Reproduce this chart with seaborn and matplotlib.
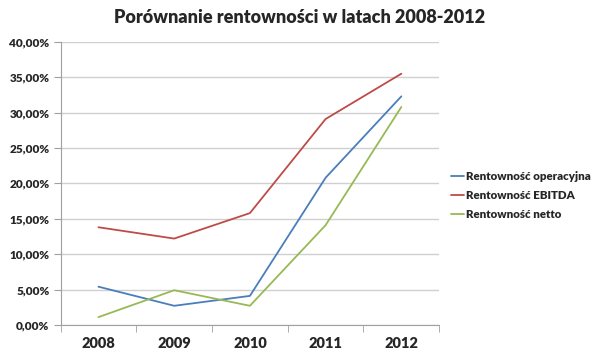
import matplotlib
matplotlib.use("Agg")
import matplotlib.pyplot as plt
import seaborn as sns
import pandas as pd
from matplotlib.ticker import FuncFormatter, FixedLocator

# dane (w %)
lata = ["2008", "2009", "2010", "2011", "2012"]
operacyjna = [5.4, 2.7, 4.1, 20.8, 32.3]
ebitda = [13.8, 12.2, 15.8, 29.1, 35.5]
netto = [1.1, 4.9, 2.7, 14.1, 30.8]

serie = ["Rentowność operacyjna", "Rentowność EBITDA", "Rentowność netto"]
kolory = ["#4a7ebb", "#be4b48", "#98b954"]

df = pd.DataFrame({
    "idx": list(range(len(lata))) * 3,
    "wartosc": operacyjna + ebitda + netto,
    "seria": [s for s in serie for _ in lata],
})

sns.set_style("white")
plt.rcParams['font.family'] = ['Lato', 'DejaVu Sans']

fig = plt.figure(figsize=(6, 3.61), dpi=100)
ax = fig.add_axes([0.101, 0.1, 0.631, 0.784])

sns.lineplot(data=df, x="idx", y="wartosc", hue="seria", palette=kolory,
             linewidth=1.3, ax=ax, legend=True)

ax.set_xlim(-0.5, len(lata) - 0.5)
ax.set_ylim(0, 40)
ax.set_yticks(range(0, 41, 5))
ax.yaxis.set_major_formatter(FuncFormatter(lambda v, p: f"{v:.2f}%".replace(".", ",")))
ax.set_xticks(range(len(lata)))
ax.set_xticklabels(lata)
ax.xaxis.set_minor_locator(FixedLocator([i - 0.5 for i in range(len(lata) + 1)]))
ax.tick_params(axis="x", which="major", length=0, pad=9, labelsize=10.5)
ax.tick_params(axis="x", which="minor", length=5, color="#a0a0a0", direction="out")
ax.tick_params(axis="y", length=5, color="#a0a0a0", labelsize=8.5, pad=3)
ax.xaxis.set_tick_params(which="minor", bottom=True)
ax.yaxis.set_tick_params(left=True)
for lbl in ax.get_xticklabels() + ax.get_yticklabels():
    lbl.set_fontweight("heavy")

ax.grid(axis="y", color="#d0d0d0", linewidth=1)
ax.set_axisbelow(True)
for s in ["top", "right"]:
    ax.spines[s].set_visible(False)
for s in ["left", "bottom"]:
    ax.spines[s].set_color("#a0a0a0")
ax.set_xlabel("")
ax.set_ylabel("")

leg = ax.legend(loc="center left", bbox_to_anchor=(1.03, 0.456), frameon=False,
                handlelength=1.2, handletextpad=0.15, labelspacing=0.7,
                borderaxespad=0, borderpad=0,
                prop={"weight": "heavy", "size": 8.3})

fig.suptitle("Porównanie rentowności w latach 2008-2012", x=0.5, y=0.975,
             fontsize=13, fontweight="heavy")

fig.savefig("out.png", dpi=100)
